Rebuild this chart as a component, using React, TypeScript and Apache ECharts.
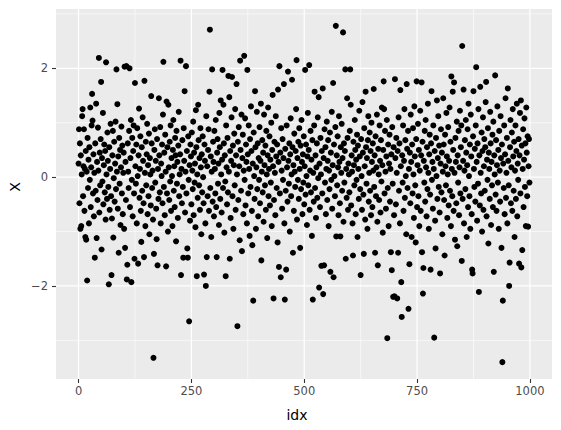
import React, { useEffect, useRef } from "react";
import * as echarts from "echarts";

// Tick positions
const xTicks = [0, 250, 500, 750, 1000];
const xMinor = [125, 375, 625, 875];
const yTicks = [-2, 0, 2];
const yMinor = [-3, -1, 1, 3];

// Series values (X), idx 0..999
const valuesA = [
  0.25, 0.88, -0.48, 0.62, -0.95, 0.40, -0.90, 0.05, 1.12, 1.25,
  -0.35, 0.20, 0.88, -0.62, 0.15, -1.10, 0.48, -1.15, 0.10, -1.90,
  0.72, -0.20, 0.32, -0.85, 0.55, -0.05, 1.28, -0.55, 0.18, 0.95,
  1.53, 1.04, -0.30, 0.42, -0.72, 0.08, -1.48, 0.62, -0.25, 1.35,
  -1.12, 0.28, -0.42, 0.91, 0.12, 2.19, -0.65, 0.45, -0.15, 0.70,
  1.75, -1.33, 0.35, -0.08, 1.18, -0.50, 0.22, 0.60, -0.28, 0.48,
  -0.78, 2.11, 0.05, -0.40, 0.82, 0.30, -0.18, -1.97, 0.55, -0.60,
  0.15, 0.98, -0.35, -1.80, -0.76, 0.40, 0.85, -1.11, -0.02, 0.65,
  -0.45, 0.25, 1.02, -0.22, 1.98, 0.10, 1.34, -0.58, 0.38, -1.39,
  0.72, -0.12, 0.50, -0.88, 0.18, 0.93, -0.30, 0.58, -0.68, 0.08,
  0.45, -0.95, 2.03, -1.30, 0.28, -0.42, 2.04, -1.88, -1.61, 0.62,
  0.10, -0.20, 0.85, 2.00, -0.55, 0.35, 1.05, -1.93, -0.05, 0.72,
  -0.72, 0.48, 0.95, -0.30, -1.50, 1.73, 0.20, -0.12, 0.60, -0.85,
  0.90, 0.02, -1.59, 0.40, 1.26, -0.38, 0.15, 0.75, -0.62, -1.19,
  0.55, -0.25, 1.10, 0.30, -0.48, -1.47, 1.77, 0.08, -0.90, 0.65,
  -0.15, 0.42, 0.98, -0.68, 0.22, -0.35, 0.80, -1.05, 0.35, 0.05,
  -0.52, 1.49, 0.62, -0.20, 0.12, -0.78, -3.32, -1.41, 0.50, 0.88,
  -0.10, 0.30, -0.58, -1.14, 0.70, -1.62, 0.15, -0.40, 1.45, 0.40,
  -0.28, 0.92, -0.85, 0.25, 0.02, 0.60, -0.48, 1.15, 2.12, -0.18,
  0.45, -0.70, 0.78, 0.10, -1.64, 1.39, -0.30, 0.55, -1.00, 1.33,
  0.18, -0.42, 0.65, -0.08, 0.95, -0.62, 0.35, 0.02, -0.90, 0.50,
  1.05, -0.25, 0.20, -0.55, 0.72, 0.40, -1.18, 0.85, -0.12, 0.28,
  -0.75, 0.58, 1.20, -0.35, 0.05, 0.42, 2.14, -1.80, 0.15, -0.48,
  0.68, -0.18, -1.48, 0.90, 0.30, 1.58, -0.65, 0.10, 2.04, -0.30,
  0.48, -1.31, -1.48, 0.75, -0.05, -2.65, 0.22, -0.80, 0.60, 0.38,
];

const valuesB = [
  -0.50, 0.82, 0.12, -0.22, 1.02, -0.70, 0.45, -0.10, 0.25, -0.92,
  1.23, 0.55, -1.82, 0.05, -0.38, 1.33, 0.68, -0.15, 0.35, -0.60,
  0.90, 0.18, -1.05, 0.42, -0.28, 0.75, 0.00, -0.48, -1.79, 0.60,
  0.30, -0.85, -2.00, 1.12, -1.47, 0.20, -0.35, 0.50, 0.88, -0.62,
  1.57, 2.71, -0.20, 0.38, -1.10, 0.10, 1.98, -0.45, 0.65, 0.28,
  -0.72, 0.85, 0.15, -0.30, 1.05, -0.55, -1.47, 0.45, 0.70, -0.12,
  0.25, -0.88, 1.18, 0.55, -0.40, 1.41, 0.05, -0.65, 0.32, 1.97,
  -0.20, 1.33, 0.62, -1.02, 0.40, -0.08, -1.82, 0.95, 0.18, -0.50,
  0.72, -0.28, 1.86, 0.10, 1.47, -1.50, 0.48, -0.75, 0.30, 1.10,
  1.84, -0.35, 0.58, -0.95, 0.22, 0.80, -0.15, 1.25, -0.60, 0.40,
  1.71, 0.05, -2.74, 0.65, -0.42, 0.92, 0.20, -1.16, 2.14, 0.50,
  -0.25, 1.15, -1.36, 0.35, 0.78, -0.68, 0.12, 2.23, -0.05, 1.08,
  -0.52, 0.60, 0.28, -0.85, 1.97, 0.42, -0.30, 0.95, 0.15, -1.08,
  0.70, -0.18, 1.30, 0.48, -0.62, -1.25, 0.25, -2.27, 0.82, 0.02,
  -0.40, 1.58, 0.55, -0.95, 0.18, 1.20, -0.22, 0.62, -0.72, 0.35,
  -0.05, 0.92, -0.48, 0.30, 1.35, -1.53, 0.10, 0.68, -0.28, 0.45,
  -0.82, 1.15, 0.22, -0.15, 0.58, -0.60, 0.85, 0.05, -1.12, 0.40,
  1.28, -0.35, 0.15, 0.75, -0.52, 0.32, -0.10, 1.00, -0.90, 0.50,
  1.51, 0.20, -2.23, -0.42, 0.65, 0.08, -0.70, 1.12, 0.38, -0.20,
  0.60, -1.20, 1.61, 0.28, -1.65, 2.04, -0.30, 0.45, -1.84, 0.90,
  0.12, -0.58, 0.70, -0.05, 0.35, 1.71, -0.85, -2.25, 0.52, -0.25,
  -1.70, 0.95, 0.18, -0.45, 1.94, 0.30, -0.12, 0.62, -1.00, 0.42,
  1.08, -0.35, 0.05, 1.79, 0.55, -1.39, 0.22, -0.62, 0.80, 0.10,
  -0.18, 0.48, 1.25, 2.15, -0.78, 0.35, -0.05, 0.65, -0.40, 0.90,
  0.15, -1.30, 0.58, -0.22, 1.05, 0.28, -0.68, 0.42, -0.10, 0.75,
];

const valuesC = [
  -0.50, 0.20, 1.97, -0.32, 0.60, 0.02, -0.88, 0.38, 1.18, -0.15,
  0.50, 2.06, -0.60, 0.12, 0.85, -0.28, 0.32, -1.08, 0.68, -2.25,
  0.08, -0.45, 0.95, 1.57, -0.20, 0.40, -0.75, 0.18, 0.62, -0.38,
  1.10, -0.02, 1.47, -2.03, 0.25, -0.55, 0.72, 0.05, -1.63, 0.48,
  -0.30, 1.63, -2.15, 0.35, -1.62, 0.88, -0.10, 0.55, -0.68, 0.15,
  1.02, -0.42, 0.30, 0.68, -0.90, 0.12, -0.22, 0.82, -1.74, 0.45,
  -0.05, 1.20, -0.58, 0.22, 1.73, -1.84, 0.60, 0.02, -0.35, 0.92,
  2.78, -1.09, 0.40, -0.15, 0.75, 0.18, -0.70, 1.12, 0.28, -0.48,
  -1.09, 0.55, 0.08, 0.98, -0.25, 0.35, 2.66, -0.82, 0.62, -0.10,
  0.48, 1.98, -1.50, 0.15, -0.38, 1.45, 0.72, -0.60, 0.25, 0.05,
  -0.28, 0.85, 1.98, 1.33, -0.52, 0.40, 0.10, -0.85, -1.44, 0.65,
  0.22, -0.15, 1.05, 0.50, -0.68, 0.32, -0.05, 0.78, -1.10, 0.58,
  0.15, -0.40, 1.22, 0.38, -0.22, -1.80, 0.70, 0.02, -0.60, 1.38,
  0.45, -0.32, -1.41, 0.90, 0.20, -0.78, 1.57, 0.55, -0.12, 0.35,
  -0.95, 0.68, 1.12, -0.45, 0.08, 0.82, -0.25, 0.48, -0.70, 1.00,
  0.28, -0.55, 0.62, 0.12, 1.62, -0.18, 0.40, -1.39, 0.75, -0.35,
  0.18, 1.15, -0.82, -1.62, 0.52, 0.05, -0.42, 0.95, 0.30, -0.65,
  0.68, -0.08, 1.28, 0.22, -1.02, 0.50, 1.76, 1.25, -0.30, 0.85,
  0.10, -0.58, 0.38, 1.05, -2.96, -0.20, 0.60, -0.90, 0.25, 0.78,
  -0.45, 0.15, -1.38, 0.42, -1.71, 0.92, -0.12, -2.20, 0.55, -0.70,
  -2.19, 1.80, 0.35, -0.50, 0.72, 0.08, -2.23, 0.48, -1.39, 1.10,
  -0.25, 0.62, -0.85, 1.60, 0.20, -1.93, -2.57, 0.40, -0.10, 0.95,
  -0.62, 0.30, 1.25, -0.38, 0.68, 0.02, -1.05, 1.71, 0.52, -0.20,
  0.85, -2.42, 0.15, -1.60, 0.45, -0.48, 1.15, 0.28, -1.10, 0.60,
  -0.30, 0.90, 0.05, -0.75, 1.30, 0.38, -0.15, -1.20, 0.70, 1.76,
];

const valuesD = [
  -0.55, 0.22, 0.98, -0.35, 0.50, -0.90, 0.12, 1.22, -0.62, 0.40,
  1.74, -1.38, 0.65, -2.14, -1.67, 0.30, -0.10, 0.85, -0.45, 1.05,
  0.18, -0.72, 0.55, -0.22, 1.35, 0.08, -0.95, 0.42, 0.78, -0.32,
  -1.70, 0.62, 1.58, -0.05, 0.28, -0.58, 0.95, 0.15, -2.95, 0.48,
  -0.80, -1.31, 0.72, 0.02, 1.41, -0.40, 0.35, 1.12, -0.18, 0.58,
  -0.65, -1.77, 0.25, 0.88, -0.28, 0.45, -1.05, 0.10, 1.45, 0.60,
  -0.42, -1.44, 0.78, 0.20, -0.15, 1.18, 0.38, -0.75, 0.05, 0.92,
  -0.52, 0.30, 1.28, -0.25, 0.65, -0.90, 1.85, 0.15, -0.35, 1.57,
  0.50, -0.62, 1.74, 0.08, -1.15, 0.72, 0.28, -0.48, 1.02, -1.27,
  0.40, -0.10, 0.85, -0.70, 0.18, 1.22, -0.30, 0.55, 0.95, -1.54,
  2.41, -0.40, 0.30, 1.61, -0.85, 0.12, 0.68, -0.22, 1.05, 0.45,
  -1.10, 0.22, 0.88, -0.55, 1.35, 0.02, -0.35, 0.60, -0.95, 1.15,
  0.38, -0.68, -1.70, -1.77, 0.75, 1.58, 0.15, -0.18, 0.52, -0.45,
  0.95, 2.02, 0.28, -0.80, 0.62, -0.12, 1.25, -2.11, 0.40, -0.52,
  1.66, 0.08, -0.30, 0.82, -1.00, 0.48, 1.10, -0.60, 0.20, 0.70,
  -0.25, 0.55, 1.38, 1.75, -0.72, 0.32, -0.05, 0.90, -1.22, 0.45,
  0.15, -0.40, 1.20, 0.62, -0.88, 0.28, -0.15, 0.78, -0.55, 1.02,
  -1.74, 0.40, 0.05, 1.87, -0.32, 0.68, -0.62, 0.22, 1.30, -0.10,
  0.50, -0.95, 0.85, 0.12, -0.45, 1.12, 0.35, -1.30, 0.60, -3.40,
  -2.27, 0.25, -0.20, 0.95, -0.68, 0.42, 1.45, -0.38, 0.08, 0.72,
  -0.85, 1.63, 0.30, -0.15, -2.00, -1.57, 0.55, 1.05, -0.48, 0.18,
  0.82, -0.62, 1.25, 0.38, -0.25, 0.65, -1.10, 0.12, 0.95, -0.40,
  0.48, 1.35, -0.72, 0.25, -0.05, 0.70, -1.59, 0.40, 1.18, -0.30,
  1.41, -1.66, 0.58, -1.34, 0.15, 0.88, -0.55, 0.32, 1.08, -0.18,
  0.62, -0.90, 1.28, 0.45, -0.35, 0.75, -0.91, 0.20, 0.70, -0.10,
];

const FONT = "DejaVu Sans";

export default function App() {
  const ref = useRef<HTMLDivElement>(null);

  useEffect(() => {
    document.body.style.margin = "0";
    if (!ref.current) return;
    const chart = echarts.init(ref.current, undefined, { renderer: "svg" });

    const values = [...valuesA, ...valuesB, ...valuesC, ...valuesD];
    const points = values.map((v, i) => [i, v]);

    // vertical grid lines: [x, width]; horizontal grid lines: [y, width]
    const vLines: number[][] = [
      ...xMinor.map((v) => [v, 0.6]),
      ...xTicks.map((v) => [v, 1.2]),
    ];
    const hLines: number[][] = [
      ...yMinor.map((v) => [v, 0.6]),
      ...yTicks.map((v) => [v, 1.2]),
    ];

    const fmt = (v: number) => (v < 0 ? "\u2212" + Math.abs(v) : String(v));

    chart.setOption({
      animation: false,
      grid: {
        left: 56,
        top: 9,
        width: 496,
        height: 370,
        show: true,
        backgroundColor: "#EBEBEB",
        borderWidth: 0,
      },
      xAxis: {
        type: "value",
        min: -49.95,
        max: 1048.95,
        axisLine: { show: false, onZero: false },
        splitLine: { show: false },
        axisTick: {
          show: true,
          customValues: xTicks,
          length: 4,
          lineStyle: { color: "#333333", width: 1.1 },
        },
        axisLabel: {
          customValues: xTicks,
          color: "#4D4D4D",
          fontSize: 11.5,
          fontFamily: FONT,
          margin: 6,
          formatter: fmt,
        },
      },
      yAxis: {
        type: "value",
        min: -3.71,
        max: 3.09,
        axisLine: { show: false, onZero: false },
        splitLine: { show: false },
        axisTick: {
          show: true,
          customValues: yTicks,
          length: 4,
          lineStyle: { color: "#333333", width: 1.1 },
        },
        axisLabel: {
          customValues: yTicks,
          color: "#4D4D4D",
          fontSize: 11.5,
          fontFamily: FONT,
          margin: 8,
          formatter: fmt,
        },
      },
      graphic: [
        {
          type: "text",
          x: 297,
          y: 415,
          style: {
            text: "idx",
            fill: "#000000",
            fontSize: 14,
            fontFamily: FONT,
            align: "center",
            verticalAlign: "middle",
          },
        },
        {
          type: "text",
          x: 15,
          y: 187,
          rotation: Math.PI / 2,
          style: {
            text: "X",
            fill: "#000000",
            fontSize: 14,
            fontFamily: FONT,
            align: "center",
            verticalAlign: "middle",
          },
        },
      ],
      series: [
        {
          type: "custom",
          silent: true,
          z: 1,
          encode: { x: 0 },
          data: vLines,
          renderItem: (params: any, api: any) => {
            const cs = params.coordSys;
            const p = api.coord([api.value(0), 0]);
            return {
              type: "line",
              shape: { x1: p[0], y1: cs.y, x2: p[0], y2: cs.y + cs.height },
              style: { stroke: "#FFFFFF", lineWidth: api.value(1) },
            };
          },
        },
        {
          type: "custom",
          silent: true,
          z: 1,
          encode: { y: 0 },
          data: hLines,
          renderItem: (params: any, api: any) => {
            const cs = params.coordSys;
            const p = api.coord([0, api.value(0)]);
            return {
              type: "line",
              shape: { x1: cs.x, y1: p[1], x2: cs.x + cs.width, y2: p[1] },
              style: { stroke: "#FFFFFF", lineWidth: api.value(1) },
            };
          },
        },
        {
          type: "scatter",
          z: 2,
          symbol: "circle",
          symbolSize: 6,
          itemStyle: { color: "#000000", opacity: 1 },
          emphasis: { disabled: true },
          data: points,
        },
      ],
    });

    return () => chart.dispose();
  }, []);

  return <div ref={ref} style={{ width: 561, height: 430 }} />;
}
